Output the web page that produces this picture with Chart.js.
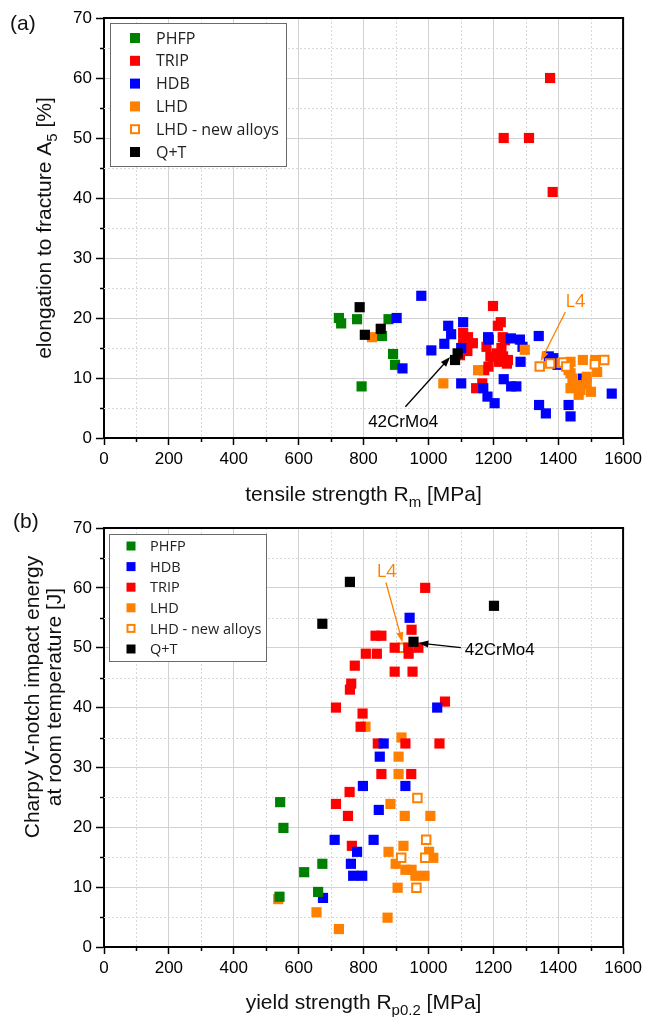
<!DOCTYPE html>
<html>
<head>
<meta charset="utf-8">
<script src="https://cdn.jsdelivr.net/npm/chart.js@4/dist/chart.umd.min.js"></script>
<style>
  html, body { margin: 0; padding: 0; background: #fff; }
  #wrap { position: relative; width: 646px; height: 1017px; }
  canvas { position: absolute; left: 0; }
  #chartA { top: 0; }
  #chartB { top: 508px; }
</style>
</head>
<body>
<div id="wrap">
  <canvas id="chartA" width="646" height="508"></canvas>
  <canvas id="chartB" width="646" height="509"></canvas>
</div>
<script>
// AXIS TICKS (both panels)
const xTicks = [0, 200, 400, 600, 800, 1000, 1200, 1400, 1600];
const yTicks = [0, 10, 20, 30, 40, 50, 60, 70];

// (a) tensile strength Rm [MPa] vs elongation A5 [%]
const phfpA = [[724, 20.0], [731, 19.1], [780, 19.8], [877, 19.8], [857, 17.0], [794, 8.6], [891, 14.0], [897, 12.2]];
const tripA = [[1375, 60], [1232, 50], [1310, 50], [1383, 41], [1199, 22], [1223, 19.3], [1214, 18.7], [1107, 17.5],
  [1122, 16.8], [1137, 15.8], [1107, 15.8], [1229, 16.8], [1236, 16.3], [1115, 16.2], [1097, 13.8], [1179, 15.2],
  [1191, 13.6], [1211, 14.1], [1230, 13.6], [1242, 12.4], [1185, 11.9], [1172, 11.3], [1166, 9.1], [1147, 8.3],
  [1217, 12.7], [1200, 13.5], [1225, 15.0], [1245, 13.0], [1120, 14.5]];
const hdbA = [[978, 23.7], [902, 20.0], [1107, 19.3], [1061, 18.7], [1070, 17.3], [1049, 15.7], [1184, 16.8],
  [1186, 16.4], [1254, 16.6], [1282, 16.4], [1340, 17.0], [1290, 15.2], [1101, 15.0], [1009, 14.6], [920, 11.6],
  [1101, 9.1], [1169, 8.3], [1182, 6.9], [1204, 5.8], [1232, 9.8], [1255, 8.6], [1271, 8.6], [1284, 12.7],
  [1341, 5.5], [1362, 4.1], [1371, 13.6], [1385, 13.3], [1398, 12.2], [1476, 9.9], [1432, 5.5], [1438, 3.6], [1565, 7.4]];
const lhdA = [[826, 16.8], [1046, 9.1], [1153, 11.3], [1297, 14.7], [1410, 12.5], [1438, 12.7], [1432, 11.3],
  [1438, 10.8], [1444, 9.9], [1438, 8.3], [1457, 8.8], [1463, 7.2], [1469, 8.0], [1488, 9.1], [1488, 10.2],
  [1501, 7.7], [1520, 11.0], [1514, 13.0], [1476, 13.0]];
const lhdNewA = [[1343, 11.9], [1375, 12.4], [1415, 12.6], [1425, 11.9], [1513, 12.3], [1542, 13.0]];
const qtA = [[788, 21.8], [853, 18.2], [804, 17.2], [1090, 14.1], [1082, 13.0]];

// (b) yield strength Rp0.2 [MPa] vs Charpy V-notch energy [J]
const phfpB = [[543, 24.2], [553, 19.9], [673, 13.9], [617, 12.5], [660, 9.2], [541, 8.4]];
const hdbB = [[942, 55], [1027, 40], [862, 34], [850, 31.8], [798, 26.9], [929, 26.9], [847, 22.9], [711, 17.9],
  [831, 17.9], [780, 15.9], [761, 13.9], [768, 11.9], [796, 11.9], [675, 8.2]];
const tripB = [[990, 60], [948, 53], [837, 52], [855, 52], [896, 50], [938, 50], [969, 50], [939, 49], [807, 49],
  [841, 49], [773, 47], [896, 46], [951, 46], [762, 44], [758, 43], [715, 40], [797, 39], [1051, 41], [791, 36.8],
  [844, 34], [929, 34], [1034, 34], [855, 28.9], [947, 28.9], [757, 25.9], [715, 23.9], [752, 21.9], [764, 16.9]];
const lhdB = [[806, 36.8], [917, 35], [908, 31.8], [908, 28.9], [883, 23.9], [927, 21.9], [1006, 21.9], [923, 16.9],
  [877, 15.9], [1002, 15.9], [1015, 14.9], [899, 13.9], [929, 12.9], [948, 12.9], [960, 11.9], [988, 11.9],
  [905, 9.9], [874, 4.9], [724, 3], [655, 5.8], [537, 8]];
const lhdNewB = [[920, 50], [966, 24.9], [993, 17.9], [916, 14.9], [990, 14.9], [963, 9.9]];
const qtB = [[758, 61], [673, 54], [1202, 57], [954, 51]];

// legend order of each panel
const legendA = ['PHFP', 'TRIP', 'HDB', 'LHD', 'LHD - new alloys', 'Q+T'];
const legendB = ['PHFP', 'HDB', 'TRIP', 'LHD', 'LHD - new alloys', 'Q+T'];

// annotations (data coordinates)
const notesA = [
  { text: '42CrMo4', color: '#000', at: [922, 2.6], from: [929, 5.2], to: [1067, 13.5] },
  { text: 'L4', color: '#ff8000', at: [1453, 22.7], from: [1422, 21.0], to: [1346, 12.8] }
];
const notesB = [
  { text: 'L4', color: '#ff8000', at: [871, 62.6], from: [869, 60.9], to: [920, 50.9] },
  { text: '42CrMo4', color: '#000', at: [1220, 49.6], from: [1100, 50.0], to: [969, 50.8] }
];

const COLORS = {
  'PHFP': '#008000', 'TRIP': '#ff0000', 'HDB': '#0000ff',
  'LHD': '#ff8000', 'LHD - new alloys': '#ff8000', 'Q+T': '#000000'
};
const ARIAL = '"Liberation Sans", Arial, sans-serif';
const LEGEND_FONT = '"Open Sans", "Noto Sans", sans-serif';

function makeDataset(name, pts, rank, total) {
  const hollow = name === 'LHD - new alloys';
  return {
    label: name,
    data: pts.map(([x, y]) => ({ x, y })),
    pointStyle: 'rect',
    pointRadius: hollow ? 6 : 7.2,
    pointBackgroundColor: hollow ? '#fff' : COLORS[name],
    pointBorderColor: COLORS[name],
    pointBorderWidth: hollow ? 2 : 0,
    showLine: false,
    order: total - rank
  };
}

function line(ctx, x1, y1, x2, y2) {
  ctx.beginPath(); ctx.moveTo(x1, y1); ctx.lineTo(x2, y2); ctx.stroke();
}

function richText(ctx, parts, cx, cy, size, rotate) {
  ctx.save();
  ctx.translate(cx, cy);
  if (rotate) ctx.rotate(-Math.PI / 2);
  const big = size + 'px ' + ARIAL;
  const small = Math.round(size * 0.7) + 'px ' + ARIAL;
  let w = 0;
  parts.forEach(p => { ctx.font = p.sub ? small : big; w += ctx.measureText(p.t).width; });
  let x = -w / 2;
  ctx.fillStyle = '#111';
  ctx.textAlign = 'left';
  ctx.textBaseline = 'alphabetic';
  parts.forEach(p => {
    ctx.font = p.sub ? small : big;
    ctx.fillText(p.t, x, size * 0.36 + (p.sub ? size * 0.3 : 0));
    x += ctx.measureText(p.t).width;
  });
  ctx.restore();
}

function arrow(ctx, x1, y1, x2, y2, color) {
  const ang = Math.atan2(y2 - y1, x2 - x1);
  const len = 10, half = 3.5;
  ctx.strokeStyle = color; ctx.fillStyle = color; ctx.lineWidth = 1.3;
  line(ctx, x1, y1, x2 - Math.cos(ang) * len * 0.8, y2 - Math.sin(ang) * len * 0.8);
  ctx.beginPath();
  ctx.moveTo(x2, y2);
  ctx.lineTo(x2 - Math.cos(ang) * len - Math.sin(ang) * half, y2 - Math.sin(ang) * len + Math.cos(ang) * half);
  ctx.lineTo(x2 - Math.cos(ang) * len + Math.sin(ang) * half, y2 - Math.sin(ang) * len - Math.cos(ang) * half);
  ctx.closePath();
  ctx.fill();
}

// minor grid (dotted) + minor ticks, under the points
function drawMinor(chart) {
  const { ctx, chartArea: a, scales: { x, y } } = chart;
  const xMinor = xTicks.slice(1).map((v, i) => (v + xTicks[i]) / 2);
  const yMinor = yTicks.slice(1).map((v, i) => (v + yTicks[i]) / 2);
  ctx.save();
  ctx.strokeStyle = '#d8d8d8'; ctx.lineWidth = 1; ctx.setLineDash([2, 2]);
  xMinor.forEach(v => { const p = Math.round(x.getPixelForValue(v)) + 0.5; line(ctx, p, a.top, p, a.bottom); });
  yMinor.forEach(v => { const p = Math.round(y.getPixelForValue(v)) + 0.5; line(ctx, a.left, p, a.right, p); });
  ctx.setLineDash([]);
  ctx.strokeStyle = '#000'; ctx.lineWidth = 1.5;
  xMinor.forEach(v => { const p = Math.round(x.getPixelForValue(v)) + 0.5; line(ctx, p, a.bottom, p, a.bottom + 4); });
  yMinor.forEach(v => { const p = Math.round(y.getPixelForValue(v)) + 0.5; line(ctx, a.left - 4, p, a.left, p); });
  ctx.restore();
}

function drawLegend(chart, lg) {
  const ctx = chart.ctx;
  ctx.save();
  ctx.fillStyle = '#fff';
  ctx.fillRect(lg.x, lg.y, lg.w, lg.h);
  ctx.strokeStyle = '#6a6a6a'; ctx.lineWidth = 1;
  ctx.strokeRect(lg.x + 0.5, lg.y + 0.5, lg.w, lg.h);
  ctx.font = lg.font + 'px ' + LEGEND_FONT;
  ctx.textBaseline = 'middle';
  ctx.textAlign = 'left';
  lg.names.forEach((name, i) => {
    const cy = lg.row0 + i * lg.step;
    const s = lg.marker;
    if (name === 'LHD - new alloys') {
      ctx.fillStyle = '#fff';
      ctx.fillRect(lg.markerX - s / 2, cy - s / 2, s, s);
      ctx.strokeStyle = COLORS[name]; ctx.lineWidth = 2;
      ctx.strokeRect(lg.markerX - s / 2 + 1, cy - s / 2 + 1, s - 2, s - 2);
    } else {
      ctx.fillStyle = COLORS[name];
      ctx.fillRect(lg.markerX - s / 2, cy - s / 2, s, s);
    }
    ctx.fillStyle = '#222';
    ctx.fillText(name, lg.textX, cy + 1);
  });
  ctx.restore();
}

function drawNotes(chart, notes) {
  const { ctx, scales: { x, y } } = chart;
  ctx.save();
  notes.forEach(n => {
    arrow(ctx, x.getPixelForValue(n.from[0]), y.getPixelForValue(n.from[1]),
      x.getPixelForValue(n.to[0]), y.getPixelForValue(n.to[1]), n.color);
    ctx.fillStyle = n.color;
    ctx.font = (n.text === 'L4' ? '18px ' + LEGEND_FONT : '17px ' + ARIAL);
    ctx.textAlign = 'center';
    ctx.textBaseline = 'middle';
    ctx.fillText(n.text, x.getPixelForValue(n.at[0]), y.getPixelForValue(n.at[1]));
  });
  ctx.restore();
}

function decor(cfg) {
  return {
    id: 'decor',
    beforeDatasetsDraw(chart) { drawMinor(chart); },
    afterDraw(chart) {
      const { ctx, chartArea: a } = chart;
      ctx.save();
      ctx.strokeStyle = '#000'; ctx.lineWidth = 2;
      line(ctx, a.left, a.top, a.right + 1, a.top);
      line(ctx, a.right, a.top, a.right, a.bottom + 1);
      ctx.restore();
      drawLegend(chart, cfg.legend);
      drawNotes(chart, cfg.notes);
      richText(ctx, cfg.xTitle, (a.left + a.right) / 2, 493, 21, false);
      cfg.yTitle.forEach(l => richText(ctx, l.parts, l.x, cfg.yTitleY, 21, true));
      ctx.save();
      ctx.fillStyle = '#111';
      ctx.font = '21px ' + ARIAL;
      ctx.textBaseline = 'middle';
      ctx.fillText(cfg.panel, cfg.panelX, cfg.panelY);
      ctx.restore();
    }
  };
}

function axis(ticksArr, tickLen, pad, fitFn) {
  return {
    type: 'linear',
    min: ticksArr[0],
    max: ticksArr[ticksArr.length - 1],
    afterBuildTicks: s => { s.ticks = ticksArr.map(v => ({ value: v })); },
    afterFit: fitFn,
    ticks: { color: '#000', font: { family: ARIAL, size: 17 }, padding: pad, callback: v => String(v) },
    grid: { color: '#d2d2d2', lineWidth: 1, drawTicks: true, tickLength: tickLen, tickColor: '#000', tickWidth: 1.5 },
    border: { color: '#000', width: 2 }
  };
}

function buildChart(canvasId, cfg) {
  const n = cfg.drawOrder.length;
  return new Chart(document.getElementById(canvasId), {
    type: 'scatter',
    data: { datasets: cfg.drawOrder.map((name, i) => makeDataset(name, cfg.values[name], i, n)) },
    options: {
      responsive: false,
      animation: false,
      devicePixelRatio: 1,
      layout: { padding: { left: 0, right: 20, top: cfg.top, bottom: 0 } },
      plugins: { legend: { display: false }, tooltip: { enabled: false } },
      scales: {
        x: axis(xTicks, 7, 4, s => { s.height = 70; }),
        y: axis(yTicks, 8, 4, s => { s.width = 104; })
      }
    },
    plugins: [decor(cfg)]
  });
}

buildChart('chartA', {
  top: 18,
  drawOrder: ['PHFP', 'TRIP', 'HDB', 'LHD', 'LHD - new alloys', 'Q+T'],
  values: { 'PHFP': phfpA, 'TRIP': tripA, 'HDB': hdbA, 'LHD': lhdA, 'LHD - new alloys': lhdNewA, 'Q+T': qtA },
  legend: { names: legendA, x: 110, y: 23, w: 176, h: 143, row0: 38, step: 22.8, marker: 10, markerX: 135, textX: 156, font: 16 },
  notes: notesA,
  xTitle: [{ t: 'tensile strength R' }, { t: 'm', sub: true }, { t: ' [MPa]' }],
  yTitle: [{ x: 43, parts: [{ t: 'elongation to fracture A' }, { t: '5', sub: true }, { t: ' [%]' }] }],
  yTitleY: 228,
  panel: '(a)', panelX: 10, panelY: 24
});

buildChart('chartB', {
  top: 20,
  drawOrder: ['LHD', 'LHD - new alloys', 'TRIP', 'HDB', 'PHFP', 'Q+T'],
  values: { 'PHFP': phfpB, 'TRIP': tripB, 'HDB': hdbB, 'LHD': lhdB, 'LHD - new alloys': lhdNewB, 'Q+T': qtB },
  legend: { names: legendB, x: 109, y: 26, w: 157, h: 127, row0: 38, step: 20.6, marker: 9, markerX: 131, textX: 150, font: 14.5 },
  notes: notesB,
  xTitle: [{ t: 'yield strength R' }, { t: 'p0.2', sub: true }, { t: ' [MPa]' }],
  yTitle: [
    { x: 31, parts: [{ t: 'Charpy V-notch impact energy' }] },
    { x: 53, parts: [{ t: 'at room temperature [J]' }] }
  ],
  yTitleY: 189,
  panel: '(b)', panelX: 13, panelY: 14
});
</script>
</body>
</html>
